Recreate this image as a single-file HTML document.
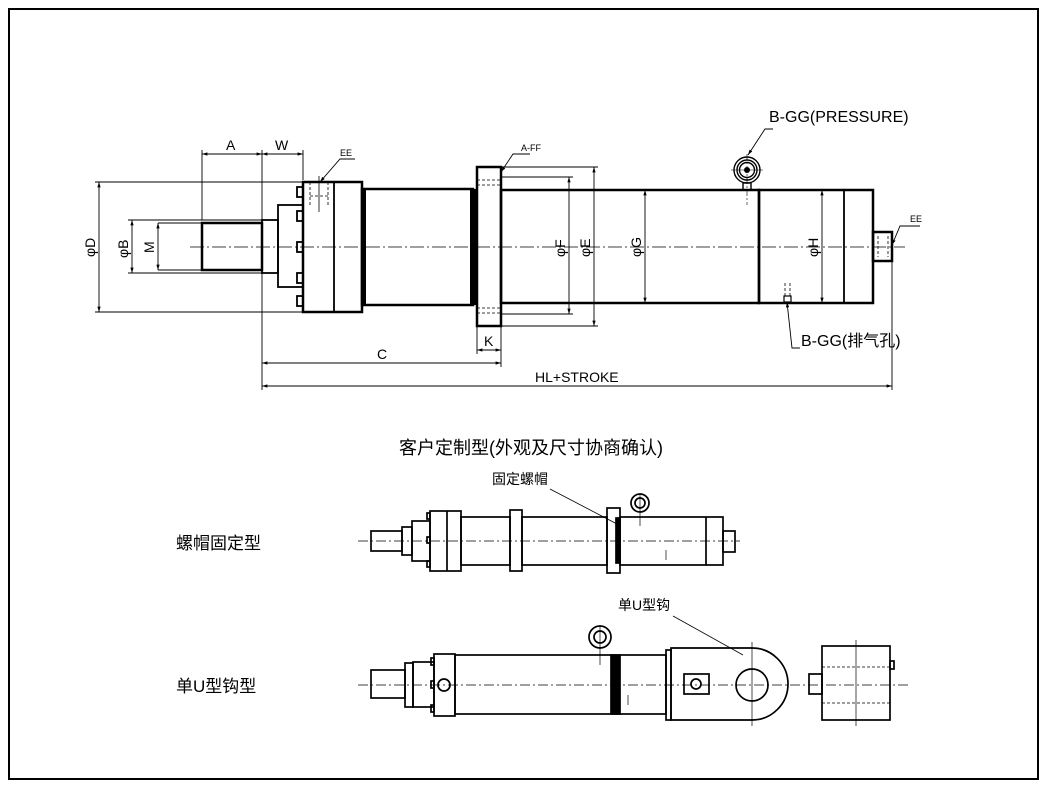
<!DOCTYPE html>
<html><head><meta charset="utf-8"><style>
html,body{margin:0;padding:0;background:#fff}
svg{display:block}
text{font-family:"Liberation Sans","Noto Sans CJK SC",sans-serif;fill:#000}
</style></head><body>
<svg width="1048" height="789" viewBox="0 0 1048 789" xmlns="http://www.w3.org/2000/svg">
<rect x="0" y="0" width="1048" height="789" fill="#fff"/>
<rect x="9" y="9" width="1029" height="770" fill="none" stroke="#000" stroke-width="2"/>

<defs>
<marker id="ar" viewBox="0 0 10 10" refX="10" refY="5" markerWidth="6" markerHeight="6" orient="auto-start-reverse"><path d="M0,2 L10,5 L0,8z" fill="#000"/></marker>
</defs>

<!-- ============ MAIN DRAWING ============ -->
<g stroke="#000" fill="none">
<line x1="190" y1="247" x2="905" y2="247" stroke-width="0.8" stroke-dasharray="14,3,2,3"/>
<rect x="202" y="223" width="60" height="47" stroke-width="2.5"/>
<rect x="262" y="220" width="16" height="53" stroke-width="1.8"/>
<rect x="278" y="205" width="25" height="82" stroke-width="1.8"/>
<g stroke-width="1.8">
<rect x="297" y="187" width="6" height="10"/><rect x="297" y="211" width="6" height="10"/><rect x="297" y="242" width="6" height="10"/><rect x="297" y="273" width="6" height="10"/><rect x="297" y="296" width="6" height="10"/>
</g>
<rect x="303" y="182" width="59" height="130" stroke-width="2.5"/>
<line x1="334" y1="182" x2="334" y2="312" stroke-width="1.8"/>
<g stroke-width="0.8" stroke-dasharray="3,2"><line x1="310" y1="182" x2="310" y2="206"/><line x1="328" y1="182" x2="328" y2="206"/><line x1="310" y1="196" x2="328" y2="196"/></g>
<line x1="319" y1="176" x2="319" y2="212" stroke-width="0.8"/>
<rect x="362" y="189" width="111" height="116" stroke-width="2.5"/>
<rect x="362" y="189" width="4" height="116" fill="#000" stroke="none"/>
<rect x="470" y="189" width="6" height="116" fill="#000" stroke="none"/>
<rect x="477" y="167" width="24" height="159" stroke-width="2.5"/>
<g stroke-width="0.8" stroke-dasharray="3,2"><line x1="477" y1="180" x2="501" y2="180"/><line x1="477" y1="185" x2="501" y2="185"/><line x1="477" y1="308" x2="501" y2="308"/><line x1="477" y1="313" x2="501" y2="313"/></g>
<rect x="501" y="190" width="258" height="113" stroke-width="2.5"/>
<rect x="759" y="190" width="114" height="113" stroke-width="2.5"/>
<line x1="844" y1="190" x2="844" y2="303" stroke-width="1.8"/>
<rect x="873" y="232" width="19" height="29" stroke-width="2.5"/>
<g stroke-width="0.8" stroke-dasharray="3,2"><line x1="878" y1="236" x2="878" y2="257"/><line x1="888" y1="236" x2="888" y2="257"/></g>
<rect x="784" y="296" width="7" height="6" stroke-width="1.2"/>
<g stroke-width="0.8" stroke-dasharray="3,2"><line x1="785" y1="283" x2="785" y2="296"/><line x1="790" y1="283" x2="790" y2="296"/></g>
<g stroke-width="1.4"><circle cx="747" cy="170" r="13"/><circle cx="747" cy="170" r="10"/><circle cx="747" cy="170" r="7.5"/><rect x="743" y="183" width="8" height="7"/>
<line x1="731" y1="170" x2="763" y2="170" stroke-width="0.6"/><line x1="747" y1="154" x2="747" y2="205" stroke-width="0.6" stroke-dasharray="6,2,2,2"/></g>
<circle cx="747" cy="170" r="3" fill="#000" stroke="none"/>

<g stroke-width="0.9">
<line x1="202" y1="220" x2="202" y2="150"/><line x1="262" y1="390" x2="262" y2="150"/><line x1="303" y1="180" x2="303" y2="150"/>
<line x1="202" y1="154" x2="262" y2="154" marker-start="url(#ar)" marker-end="url(#ar)"/>
<line x1="262" y1="154" x2="303" y2="154" marker-start="url(#ar)" marker-end="url(#ar)"/>
<line x1="95" y1="182" x2="303" y2="182"/><line x1="95" y1="312" x2="303" y2="312"/>
<line x1="99" y1="182" x2="99" y2="312" marker-start="url(#ar)" marker-end="url(#ar)"/>
<line x1="128" y1="220" x2="262" y2="220"/><line x1="128" y1="273" x2="262" y2="273"/>
<line x1="132" y1="220" x2="132" y2="273" marker-start="url(#ar)" marker-end="url(#ar)"/>
<line x1="158" y1="223" x2="202" y2="223"/><line x1="158" y1="270" x2="202" y2="270"/>
<line x1="158" y1="223" x2="158" y2="270" marker-start="url(#ar)" marker-end="url(#ar)"/>
<line x1="477" y1="326" x2="477" y2="354"/><line x1="501" y1="326" x2="501" y2="367"/>
<line x1="477" y1="350" x2="501" y2="350" marker-start="url(#ar)" marker-end="url(#ar)"/>
<line x1="262" y1="363" x2="501" y2="363" marker-start="url(#ar)" marker-end="url(#ar)"/>
<line x1="892" y1="262" x2="892" y2="390"/>
<line x1="262" y1="386" x2="892" y2="386" marker-start="url(#ar)" marker-end="url(#ar)"/>
<line x1="501" y1="177" x2="573" y2="177"/><line x1="501" y1="314" x2="573" y2="314"/>
<line x1="569" y1="177" x2="569" y2="314" marker-start="url(#ar)" marker-end="url(#ar)"/>
<line x1="501" y1="167" x2="598" y2="167"/><line x1="501" y1="326" x2="598" y2="326"/>
<line x1="594" y1="167" x2="594" y2="326" marker-start="url(#ar)" marker-end="url(#ar)"/>
<line x1="645" y1="190" x2="645" y2="303" marker-start="url(#ar)" marker-end="url(#ar)"/>
<line x1="822" y1="190" x2="822" y2="303" marker-start="url(#ar)" marker-end="url(#ar)"/>
<polyline points="355,159 340,159 320,182" marker-end="url(#ar)"/>
<polyline points="530,154 513,154 501,172" marker-end="url(#ar)"/>
<polyline points="773,129 765,129 748,155" marker-end="url(#ar)"/>
<polyline points="800,348 792,348 787,302" marker-end="url(#ar)"/>
<polyline points="920,226 900,226 892,245" marker-end="url(#ar)"/>
</g>
</g>
<g font-size="14">
<text x="226" y="150">A</text><text x="275" y="150">W</text>
<text x="340" y="156" font-size="9">EE</text>
<text x="521" y="151" font-size="9">A-FF</text>
<text x="484" y="346">K</text><text x="377" y="359">C</text>
<text x="535" y="382">HL+STROKE</text>
<text x="769" y="122" font-size="16">B-GG(PRESSURE)</text>
<text x="801" y="346" font-size="16">B-GG(排气孔)</text>
<text x="910" y="222" font-size="9">EE</text>
<text transform="translate(95,257) rotate(-90)">φD</text>
<text transform="translate(128,258) rotate(-90)">φB</text>
<text transform="translate(154,253) rotate(-90)">M</text>
<text transform="translate(565,257) rotate(-90)">φF</text>
<text transform="translate(590,257) rotate(-90)">φE</text>
<text transform="translate(641,257) rotate(-90)">φG</text>
<text transform="translate(818,257) rotate(-90)">φH</text>
</g>

<text x="399" y="454" font-size="18">客户定制型(外观及尺寸协商确认)</text>
<text x="492" y="484" font-size="14">固定螺帽</text>
<text x="176" y="549" font-size="17">螺帽固定型</text>
<text x="618" y="610" font-size="14">单U型钩</text>
<text x="176" y="692" font-size="17">单U型钩型</text>

<!-- ============ MIDDLE ============ -->
<g stroke="#000" fill="none" stroke-width="1.7">
<line x1="358" y1="541" x2="740" y2="541" stroke-width="0.7" stroke-dasharray="10,3,2,3"/>
<rect x="371" y="531" width="31" height="20"/>
<rect x="402" y="527" width="10" height="28"/>
<rect x="412" y="521" width="18" height="40"/>
<rect x="427" y="513" width="3" height="6"/><rect x="427" y="537" width="3" height="6"/><rect x="427" y="561" width="3" height="6"/>
<rect x="430" y="511" width="31" height="60"/><line x1="447" y1="511" x2="447" y2="571"/>
<rect x="461" y="517" width="49" height="48"/>
<rect x="510" y="510" width="12" height="61"/>
<rect x="522" y="517" width="85" height="48"/>
<rect x="607" y="508" width="13" height="65"/>
<rect x="616" y="518" width="4" height="45" fill="#000"/>
<rect x="620" y="517" width="103" height="48"/><line x1="706" y1="517" x2="706" y2="565"/>
<rect x="723" y="531" width="12" height="21"/>
<circle cx="640" cy="503" r="9"/><circle cx="640" cy="503" r="5"/>
<line x1="640" y1="495" x2="640" y2="526" stroke-width="0.7"/>
<line x1="550" y1="489" x2="617" y2="524" stroke-width="0.8"/>
<line x1="666" y1="550" x2="666" y2="560" stroke-width="0.7"/>
</g>

<!-- ============ BOTTOM ============ -->
<g stroke="#000" fill="none" stroke-width="1.7">
<line x1="358" y1="685" x2="910" y2="685" stroke-width="0.7" stroke-dasharray="10,3,2,3"/>
<rect x="371" y="670" width="34" height="28"/>
<rect x="405" y="663" width="8" height="44"/>
<rect x="413" y="662" width="21" height="45"/>
<rect x="431" y="658" width="3" height="7"/><rect x="431" y="681" width="3" height="7"/><rect x="431" y="705" width="3" height="7"/>
<rect x="434" y="654" width="21" height="62"/>
<circle cx="444" cy="685" r="6"/>
<rect x="455" y="655" width="211" height="59"/>
<rect x="611" y="655" width="9" height="59" fill="#000"/>
<rect x="666" y="650" width="5" height="70"/>
<path d="M671,648 L752,648 A36,36 0 0 1 752,720 L671,720 Z"/>
<circle cx="752" cy="685" r="16"/>
<line x1="752" y1="642" x2="752" y2="726" stroke-width="0.7"/>
<rect x="684" y="674" width="25" height="20"/><circle cx="696" cy="684" r="5"/>
<rect x="822" y="646" width="68" height="74"/>
<line x1="856" y1="640" x2="856" y2="726" stroke-width="0.7"/>
<line x1="822" y1="667" x2="890" y2="667" stroke-width="0.7" stroke-dasharray="3,2"/>
<line x1="822" y1="703" x2="890" y2="703" stroke-width="0.7" stroke-dasharray="3,2"/>
<rect x="809" y="674" width="13" height="20"/>
<rect x="890" y="661" width="4" height="8"/>
<circle cx="600" cy="637" r="11"/><circle cx="600" cy="637" r="6"/>
<line x1="600" y1="626" x2="600" y2="665" stroke-width="0.7"/>
<line x1="673" y1="616" x2="743" y2="655" stroke-width="0.8"/>
<line x1="628" y1="695" x2="628" y2="705" stroke-width="0.7"/>
</g>
</svg>
</body></html>
